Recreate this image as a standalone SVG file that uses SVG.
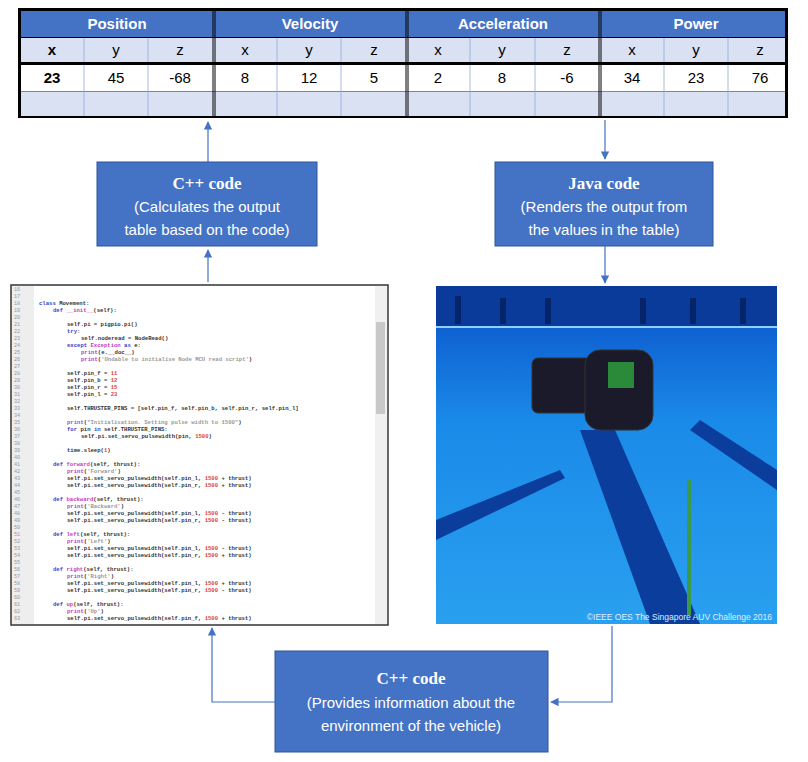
<svg xmlns="http://www.w3.org/2000/svg" width="808" height="762" viewBox="0 0 808 762">
<style>
.h{font:bold 15px "Liberation Sans",Arial,sans-serif;fill:#fff;text-anchor:middle}
.c{font:15px "Liberation Sans",Arial,sans-serif;fill:#000;text-anchor:middle}
.bx{fill:#4472c4;stroke:#2f5597;stroke-width:1}
.bt{font:bold 17px "Liberation Serif","Times New Roman",serif;fill:#fff;text-anchor:middle}
.bs{font:15px "Liberation Sans",Arial,sans-serif;fill:#fff;text-anchor:middle}
.cd{font:bold 5.6px "Liberation Mono",monospace;fill:#333}
.ln{font:5.2px "Liberation Mono",monospace;fill:#999}
.k{fill:#3344cc;font-weight:bold}.m{fill:#c040c0}.r{fill:#e04040}.s{fill:#999}
.ar{stroke:#4472c4;stroke-width:1.2;fill:none}
</style>
<defs>
<marker id="a" viewBox="0 0 10 10" refX="9" refY="5" markerWidth="7" markerHeight="7" orient="auto"><path d="M0,0L10,5L0,10z" fill="#4472c4"/></marker>
<linearGradient id="pool" x1="0" y1="0" x2="0" y2="1"><stop offset="0" stop-color="#0a4fc8"/><stop offset="0.4" stop-color="#1a8ae8"/><stop offset="1" stop-color="#2aa0f0"/></linearGradient>
</defs>
<rect width="808" height="762" fill="#fff"/>
<g id="table">
<rect x="18" y="8" width="770" height="110" fill="#000"/>
<rect x="21" y="11" width="764" height="26" fill="#4472c4"/>
<rect x="21" y="38" width="764" height="24" fill="#d9e1f2"/>
<rect x="21" y="65" width="764" height="26" fill="#fff"/>
<rect x="21" y="92" width="764" height="24" fill="#d9e1f2"/>
<g stroke="#8faadc" stroke-width="0.8">
<line x1="84" y1="38" x2="84" y2="116"/><line x1="148" y1="38" x2="148" y2="116"/>
<line x1="277" y1="38" x2="277" y2="116"/><line x1="341" y1="38" x2="341" y2="116"/>
<line x1="470" y1="38" x2="470" y2="116"/><line x1="535" y1="38" x2="535" y2="116"/>
<line x1="664" y1="38" x2="664" y2="116"/><line x1="728" y1="38" x2="728" y2="116"/>
<line x1="21" y1="91.5" x2="785" y2="91.5"/>
</g>
<g stroke="#000" stroke-width="1"><line x1="213" y1="11" x2="213" y2="116"/><line x1="215" y1="11" x2="215" y2="116"/>
<line x1="406" y1="11" x2="406" y2="116"/><line x1="408" y1="11" x2="408" y2="116"/>
<line x1="599" y1="11" x2="599" y2="116"/><line x1="601" y1="11" x2="601" y2="116"/></g>
<rect x="21" y="62" width="764" height="3" fill="#000"/>
<text class="h" x="117" y="29">Position</text><text class="h" x="310" y="29">Velocity</text><text class="h" x="503" y="29">Acceleration</text><text class="h" x="696" y="29">Power</text>
<g class="c"><text x="52" y="55" font-weight="bold">x</text><text x="116" y="55">y</text><text x="180" y="55">z</text>
<text x="245" y="55">x</text><text x="309" y="55">y</text><text x="374" y="55">z</text>
<text x="438" y="55">x</text><text x="502" y="55">y</text><text x="567" y="55">z</text>
<text x="632" y="55">x</text><text x="696" y="55">y</text><text x="760" y="55">z</text>
<text x="52" y="83" font-weight="bold">23</text><text x="116" y="83">45</text><text x="180" y="83">-68</text>
<text x="245" y="83">8</text><text x="309" y="83">12</text><text x="374" y="83">5</text>
<text x="438" y="83">2</text><text x="502" y="83">8</text><text x="567" y="83">-6</text>
<text x="632" y="83">34</text><text x="696" y="83">23</text><text x="760" y="83">76</text></g>
</g>
<g id="cpp1"><rect class="bx" x="97" y="162" width="220" height="84"/>
<text class="bt" x="207" y="189">C++ code</text><text class="bs" x="207" y="212">(Calculates the output</text><text class="bs" x="207" y="235">table based on the code)</text></g>
<g id="java"><rect class="bx" x="495" y="162" width="218" height="84"/>
<text class="bt" x="604" y="189">Java code</text><text class="bs" x="604" y="212">(Renders the output from</text><text class="bs" x="604" y="235">the values in the table)</text></g>
<g id="cpp2"><rect class="bx" x="275" y="651" width="273" height="101"/>
<text class="bt" x="411" y="684">C++ code</text><text class="bs" x="411" y="708">(Provides information about the</text><text class="bs" x="411" y="731">environment  of the vehicle)</text></g>
<g id="code">
<rect x="11" y="285" width="377" height="340" fill="#fff" stroke="#333" stroke-width="1.5"/>
<rect x="12" y="286" width="22" height="338" fill="#eee"/>
<rect x="375" y="286" width="12" height="338" fill="#f0f0f0"/>
<rect x="376" y="322" width="9" height="92" fill="#c8c8c8"/>
<g class="ln">
<text x="14" y="291">16</text><text x="14" y="298">17</text><text x="14" y="305">18</text><text x="14" y="312">19</text><text x="14" y="319">20</text><text x="14" y="326">21</text><text x="14" y="333">22</text><text x="14" y="340">23</text><text x="14" y="347">24</text><text x="14" y="354">25</text><text x="14" y="361">26</text><text x="14" y="368">27</text><text x="14" y="375">28</text><text x="14" y="382">29</text><text x="14" y="389">30</text><text x="14" y="396">31</text><text x="14" y="403">32</text><text x="14" y="410">33</text><text x="14" y="417">34</text><text x="14" y="424">35</text><text x="14" y="431">36</text><text x="14" y="438">37</text><text x="14" y="445">38</text><text x="14" y="452">39</text><text x="14" y="459">40</text><text x="14" y="466">41</text><text x="14" y="473">42</text><text x="14" y="480">43</text><text x="14" y="487">44</text><text x="14" y="494">45</text><text x="14" y="501">46</text><text x="14" y="508">47</text><text x="14" y="515">48</text><text x="14" y="522">49</text><text x="14" y="529">50</text><text x="14" y="536">51</text><text x="14" y="543">52</text><text x="14" y="550">53</text><text x="14" y="557">54</text><text x="14" y="564">55</text><text x="14" y="571">56</text><text x="14" y="578">57</text><text x="14" y="585">58</text><text x="14" y="592">59</text><text x="14" y="599">60</text><text x="14" y="606">61</text><text x="14" y="613">62</text><text x="14" y="620">63</text></g>
<g class="cd">
<text x="39" y="305"><tspan class="k">class</tspan> Movement:</text>
<text x="53" y="312"><tspan class="k">def</tspan> <tspan class="m">__init__</tspan>(self):</text>
<text x="67" y="326">self.pi = pigpio.pi()</text>
<text x="67" y="333" class="k">try:</text>
<text x="81" y="340">self.noderead = NodeRead()</text>
<text x="67" y="347"><tspan class="k">except</tspan> <tspan class="m">Exception</tspan> <tspan class="k">as</tspan> e:</text>
<text x="81" y="354"><tspan class="m">print</tspan>(e.__doc__)</text>
<text x="81" y="361"><tspan class="m">print</tspan>(<tspan class="s">'Undable to initialise Node MCU read script'</tspan>)</text>
<text x="67" y="375">self.pin_f = <tspan class="r">11</tspan></text>
<text x="67" y="382">self.pin_b = <tspan class="r">12</tspan></text>
<text x="67" y="389">self.pin_r = <tspan class="r">15</tspan></text>
<text x="67" y="396">self.pin_l = <tspan class="r">23</tspan></text>
<text x="67" y="410">self.THRUSTER_PINS = [self.pin_f, self.pin_b, self.pin_r, self.pin_l]</text>
<text x="67" y="424"><tspan class="m">print</tspan>(<tspan class="s">"Initialisation. Setting pulse width to 1500"</tspan>)</text>
<text x="67" y="431"><tspan class="k">for</tspan> pin <tspan class="k">in</tspan> self.THRUSTER_PINS:</text>
<text x="81" y="438">self.pi.set_servo_pulsewidth(pin, <tspan class="r">1500</tspan>)</text>
<text x="67" y="452">time.sleep(<tspan class="r">1</tspan>)</text>
<text x="53" y="466"><tspan class="k">def</tspan> <tspan class="m">forward</tspan>(self, thrust):</text>
<text x="67" y="473"><tspan class="m">print</tspan>(<tspan class="s">'Forward'</tspan>)</text>
<text x="67" y="480">self.pi.set_servo_pulsewidth(self.pin_l, <tspan class="r">1500</tspan> + thrust)</text>
<text x="67" y="487">self.pi.set_servo_pulsewidth(self.pin_r, <tspan class="r">1500</tspan> + thrust)</text>
<text x="53" y="501"><tspan class="k">def</tspan> <tspan class="m">backward</tspan>(self, thrust):</text>
<text x="67" y="508"><tspan class="m">print</tspan>(<tspan class="s">'Backward'</tspan>)</text>
<text x="67" y="515">self.pi.set_servo_pulsewidth(self.pin_l, <tspan class="r">1500</tspan> - thrust)</text>
<text x="67" y="522">self.pi.set_servo_pulsewidth(self.pin_r, <tspan class="r">1500</tspan> - thrust)</text>
<text x="53" y="536"><tspan class="k">def</tspan> <tspan class="m">left</tspan>(self, thrust):</text>
<text x="67" y="543"><tspan class="m">print</tspan>(<tspan class="s">'Left'</tspan>)</text>
<text x="67" y="550">self.pi.set_servo_pulsewidth(self.pin_l, <tspan class="r">1500</tspan> - thrust)</text>
<text x="67" y="557">self.pi.set_servo_pulsewidth(self.pin_r, <tspan class="r">1500</tspan> + thrust)</text>
<text x="53" y="571"><tspan class="k">def</tspan> <tspan class="m">right</tspan>(self, thrust):</text>
<text x="67" y="578"><tspan class="m">print</tspan>(<tspan class="s">'Right'</tspan>)</text>
<text x="67" y="585">self.pi.set_servo_pulsewidth(self.pin_l, <tspan class="r">1500</tspan> + thrust)</text>
<text x="67" y="592">self.pi.set_servo_pulsewidth(self.pin_r, <tspan class="r">1500</tspan> - thrust)</text>
<text x="53" y="606"><tspan class="k">def</tspan> <tspan class="m">up</tspan>(self, thrust):</text>
<text x="67" y="613"><tspan class="m">print</tspan>(<tspan class="s">'Up'</tspan>)</text>
<text x="67" y="620">self.pi.set_servo_pulsewidth(self.pin_f, <tspan class="r">1500</tspan> + thrust)</text>
</g></g>
<g id="photo">
<rect x="436" y="286" width="341" height="338" fill="url(#pool)"/>
<rect x="436" y="286" width="341" height="40" fill="#0a3a9a"/>
<g fill="#06246a"><rect x="455" y="296" width="6" height="28"/><rect x="500" y="298" width="6" height="26"/><rect x="545" y="298" width="6" height="26"/><rect x="640" y="298" width="6" height="26"/><rect x="690" y="298" width="6" height="26"/><rect x="740" y="298" width="6" height="26"/></g>
<line x1="436" y1="327" x2="777" y2="327" stroke="#8cd0ff" stroke-width="2"/>
<path d="M580,430 L615,430 L700,624 L650,624 Z" fill="#0b3d9c"/>
<path d="M700,420 L777,470 L777,490 L690,430Z" fill="#0b3d9c"/>
<path d="M436,520 L560,470 L565,478 L436,540Z" fill="#0b3d9c"/>
<g fill="#1a1a2a" stroke="#333"><rect x="532" y="358" width="62" height="55" rx="6"/><rect x="585" y="350" width="68" height="80" rx="15"/></g>
<rect x="608" y="362" width="26" height="26" fill="#2a8a3a"/>
<rect x="687" y="480" width="4" height="135" fill="#3a9a4a"/>
<text x="772" y="620" text-anchor="end" font-family="Liberation Sans,Arial,sans-serif" font-size="8.5" fill="#dfefff">©IEEE OES The Singapore AUV Challenge 2016</text>
</g>
<g id="connectors" class="ar">
<line x1="208" y1="162" x2="208" y2="122" marker-end="url(#a)"/>
<line x1="208" y1="282" x2="208" y2="250" marker-end="url(#a)"/>
<line x1="605" y1="120" x2="605" y2="159" marker-end="url(#a)"/>
<line x1="605" y1="246" x2="605" y2="283" marker-end="url(#a)"/>
<polyline points="275,702 212,702 212,628" marker-end="url(#a)"/>
<polyline points="612,626 612,702 551,702" marker-end="url(#a)"/>
</g>
</svg>
